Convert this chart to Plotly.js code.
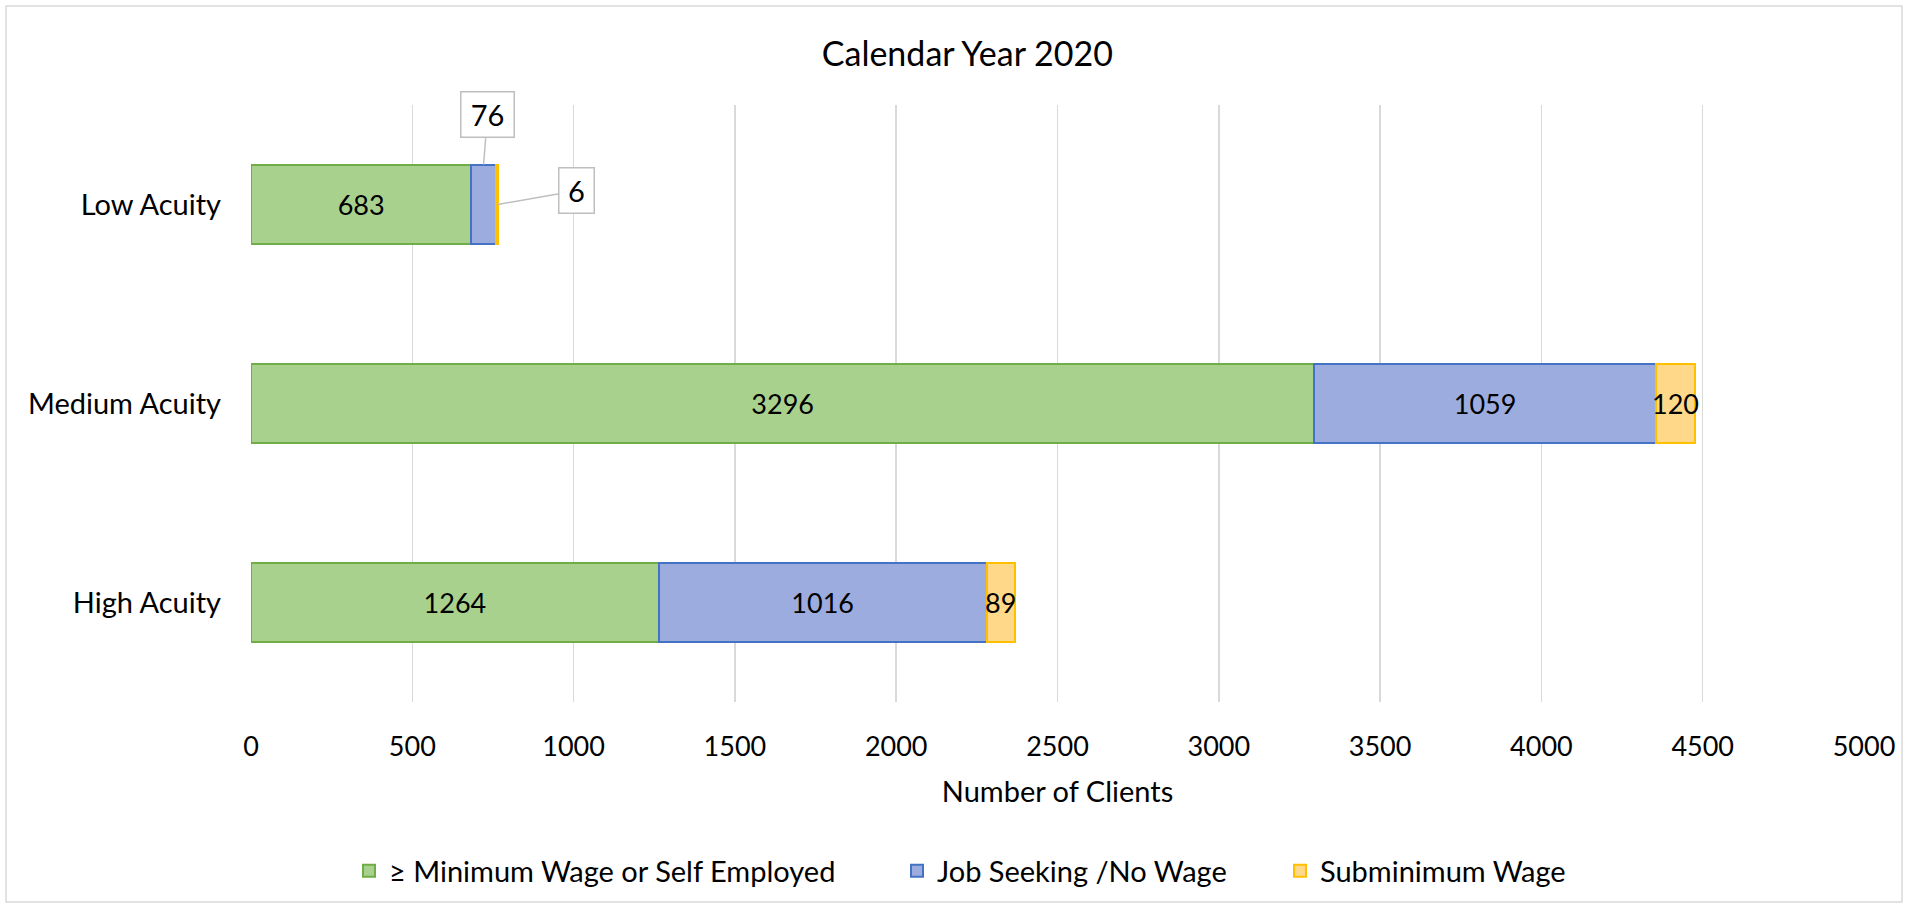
<!DOCTYPE html>
<html>
<head>
<meta charset="utf-8">
<script src="https://cdn.plot.ly/plotly-3.0.1.min.js"></script>
<style>
  html, body { margin: 0; padding: 0; background: #ffffff; }
  #chart { width: 1908px; height: 908px; }
</style>
</head>
<body>
<div id="chart"></div>
<script>
// ---- Data ----
const categories = ["Low Acuity", "Medium Acuity", "High Acuity"];
const seriesNames = ["\u2265 Minimum Wage or Self Employed", "Job Seeking /No Wage", "Subminimum Wage"];
const minWage = [683, 3296, 1264];
const jobSeeking = [76, 1059, 1016];
const subminimum = [6, 120, 89];
const xTickValues = [0, 500, 1000, 1500, 2000, 2500, 3000, 3500, 4000, 4500, 5000];
const chartTitle = "Calendar Year 2020";
const xAxisTitle = "Number of Clients";

// ---- Styles ----
const FONT = "Lato, 'Open Sans', sans-serif";
const FS_NUM = 27;   // digits
const FS_TXT = 29;   // words
const fills = ["#a9d18e", "#9cacde", "#ffd88a"];
const lines = ["#70ad47", "#4472c4", "#ffc000"];
const legendIds = ["legend", "legend2", "legend3"];
const legendX = [(349 - 251) / 1613, (897 - 251) / 1613, (1280 - 251) / 1613];
const allSeries = [minWage, jobSeeking, subminimum];

const traces = allSeries.map((vals, i) => ({
  type: "bar",
  orientation: "h",
  name: seriesNames[i],
  legend: legendIds[i],
  y: categories,
  x: vals,
  text: vals.map(v => (v >= 200 ? String(v) : "")),
  textposition: "inside",
  insidetextanchor: "middle",
  textfont: { family: FONT, size: FS_NUM, color: "#000000" },
  marker: { color: fills[i], line: { color: lines[i], width: 2 } },
  hoverinfo: "none"
}));

// Labels for narrow segments (positions computed from the data)
const annotations = [];
categories.forEach((cat, k) => {
  const base2 = minWage[k] + jobSeeking[k];
  if (cat === "Low Acuity") {
    annotations.push({
      x: minWage[k] + jobSeeking[k] / 2, y: cat, yshift: 40,
      text: String(jobSeeking[k]), showarrow: true, arrowhead: 0, arrowwidth: 1.5,
      arrowcolor: "#bfbfbf", ax: 4, ay: -50, width: 44, height: 36,
      bordercolor: "#bfbfbf", borderwidth: 1.5, borderpad: 4, bgcolor: "#ffffff",
      font: { family: FONT, size: FS_NUM + 2, color: "#000000" }
    });
    annotations.push({
      x: base2 + subminimum[k], y: cat,
      text: String(subminimum[k]), showarrow: true, arrowhead: 0, arrowwidth: 1.5,
      arrowcolor: "#bfbfbf", ax: 79, ay: -14, width: 26, height: 36,
      bordercolor: "#bfbfbf", borderwidth: 1.5, borderpad: 4, bgcolor: "#ffffff",
      font: { family: FONT, size: FS_NUM + 2, color: "#000000" }
    });
  } else {
    annotations.push({
      x: base2 + subminimum[k] / 2, y: cat,
      text: String(subminimum[k]), showarrow: false,
      font: { family: FONT, size: FS_NUM, color: "#000000" }
    });
  }
});

function legendCfg(x) {
  return {
    orientation: "h",
    x: x, xanchor: "left",
    y: -0.283, yanchor: "middle",
    bgcolor: "rgba(0,0,0,0)",
    font: { family: FONT, size: FS_TXT, color: "#000000" }
  };
}

const layout = {
  width: 1908,
  height: 908,
  paper_bgcolor: "#ffffff",
  plot_bgcolor: "#ffffff",
  font: { family: FONT, size: FS_TXT, color: "#000000" },
  margin: { l: 251, r: 44, t: 105, b: 206, autoexpand: false },
  title: {
    text: chartTitle,
    x: 0.507, xref: "container", xanchor: "center",
    y: 0.9405, yref: "container", yanchor: "middle",
    font: { family: FONT, size: 34, color: "#000000" }
  },
  barmode: "stack",
  bargap: 0.6,
  showlegend: true,
  legend: legendCfg(legendX[0]),
  legend2: legendCfg(legendX[1]),
  legend3: legendCfg(legendX[2]),
  xaxis: {
    range: [0, 5000],
    tickvals: xTickValues,
    ticktext: xTickValues.map(String),
    showgrid: true,
    gridcolor: "#d9d9d9",
    gridwidth: 1.5,
    zeroline: false,
    showline: false,
    ticks: "",
    ticklabelstandoff: 26,
    tickfont: { family: FONT, size: FS_NUM, color: "#000000" },
    title: { text: xAxisTitle, standoff: 20, font: { family: FONT, size: FS_TXT, color: "#000000" } },
    fixedrange: true
  },
  yaxis: {
    categoryorder: "array",
    categoryarray: categories,
    autorange: "reversed",
    showgrid: false,
    zeroline: false,
    showline: false,
    ticks: "",
    ticklabelstandoff: 29,
    tickfont: { family: FONT, size: FS_TXT, color: "#000000" },
    fixedrange: true
  },
  annotations: annotations,
  shapes: [{
    type: "rect", xref: "paper", yref: "paper",
    x0: (6 - 251) / 1613, x1: (1902 - 251) / 1613,
    y0: (702 - 902) / 597, y1: (702 - 6) / 597,
    line: { color: "#d9d9d9", width: 1.5 }, fillcolor: "rgba(0,0,0,0)", layer: "below"
  }],
  hovermode: false
};

Plotly.newPlot("chart", traces, layout, { displayModeBar: false, staticPlot: true });
</script>
</body>
</html>
